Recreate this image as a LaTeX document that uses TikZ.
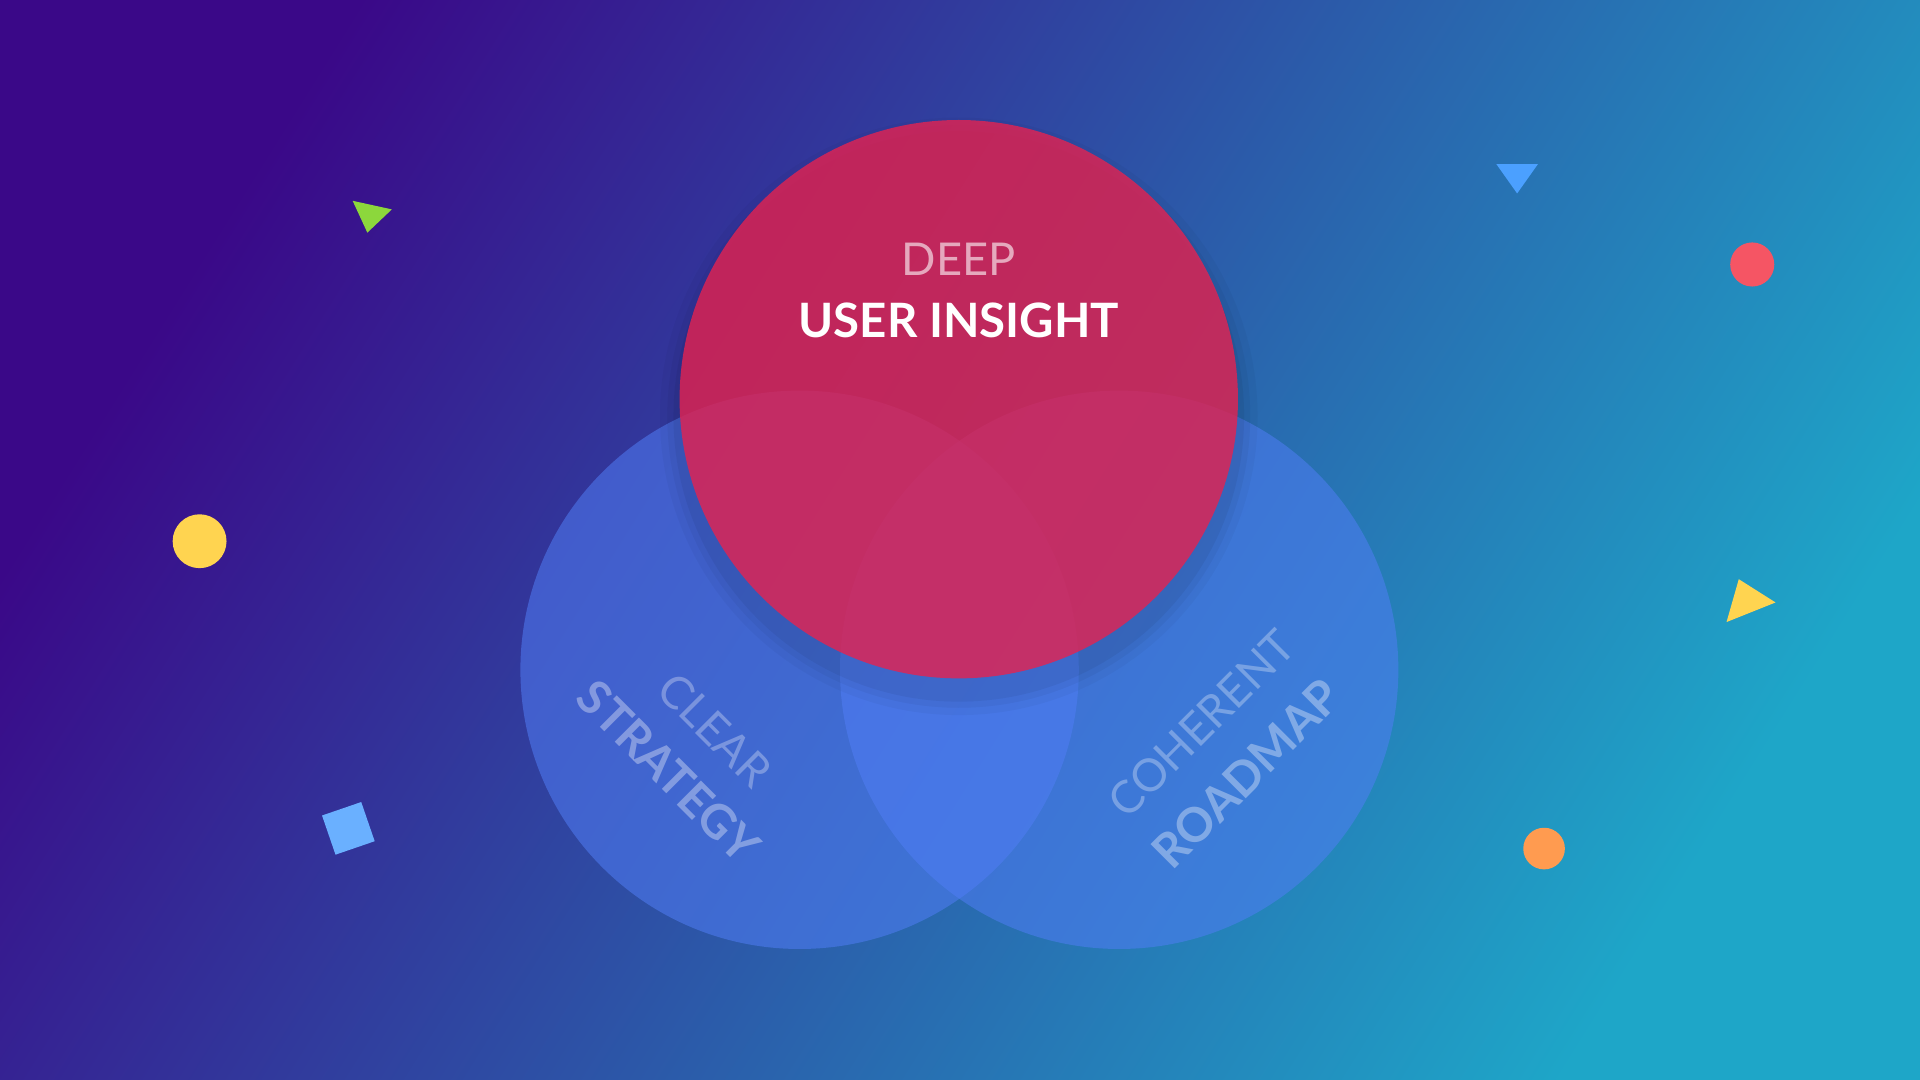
\documentclass[tikz,border=0pt]{standalone}
\usepackage{fontspec}
\setmainfont{Lato}
\usetikzlibrary{shadings}
\begin{document}
\begin{tikzpicture}[x=0.01cm,y=-0.01cm,
  lbl/.style={font=\fontsize{10.5}{12}\selectfont, text=white},
  blbl/.style={font=\bfseries\fontsize{11}{12}\selectfont, text=white}]
\definecolor{c1}{HTML}{3A0888}\definecolor{cm}{HTML}{4540E2}
\definecolor{c4}{HTML}{1EA6C8}
\useasboundingbox (0,0) rectangle (1568,882);
\shade[top color=c1,middle color=cm,bottom color=c4,shading angle=58] (0,0) rectangle (1568,882);
% blue circles
\fill[color={rgb,255:red,80;green,125;blue,245},opacity=0.55] (653,547) circle (228);
\fill[color={rgb,255:red,80;green,125;blue,245},opacity=0.55] (914,547) circle (228);
% soft shadow
\foreach \r/\o in {244/0.03,238/0.04,233/0.05}{\fill[black,opacity=\o] (783,340) circle (\r);}
% red
\fill[color={rgb,255:red,230;green,34;blue,80},opacity=0.8] (783,326) circle (228);
\node[lbl,text opacity=0.6] (deep) at (783,212) {DEEP};
\node[blbl] (ui) at (783,262) {USER INSIGHT};
\node[lbl,rotate=-45,text=white,text opacity=0.3] (clear) at (584,596) {CLEAR};
\node[blbl,rotate=-45,text=white,text opacity=0.35] (strat) at (546,630) {STRATEGY};
\node[lbl,rotate=45,text=white,text opacity=0.3] (coh) at (981,591) {COHERENT};
\node[blbl,rotate=45,text=white,text opacity=0.35] (road) at (1018,632) {ROADMAP};
% decorations
\fill[color={rgb,255:red,140;green,215;blue,60}] (288,164) -- (320,171) -- (300,190) -- cycle;
\fill[color={rgb,255:red,75;green,160;blue,255}] (1222,134) -- (1256,134) -- (1239,158) -- cycle;
\fill[color={rgb,255:red,245;green,85;blue,100}] (1431,216) circle (18);
\fill[color={rgb,255:red,255;green,212;blue,80}] (163,442) circle (22);
\fill[color={rgb,255:red,255;green,212;blue,80}] (1420,473) -- (1450,492) -- (1410,508) -- cycle;
\fill[color={rgb,255:red,255;green,155;blue,80}] (1261,693) circle (17);
\fill[color={rgb,255:red,106;green,176;blue,255}] (263,666) -- (295,655) -- (306,687) -- (274,698) -- cycle;
\end{tikzpicture}
\end{document}
